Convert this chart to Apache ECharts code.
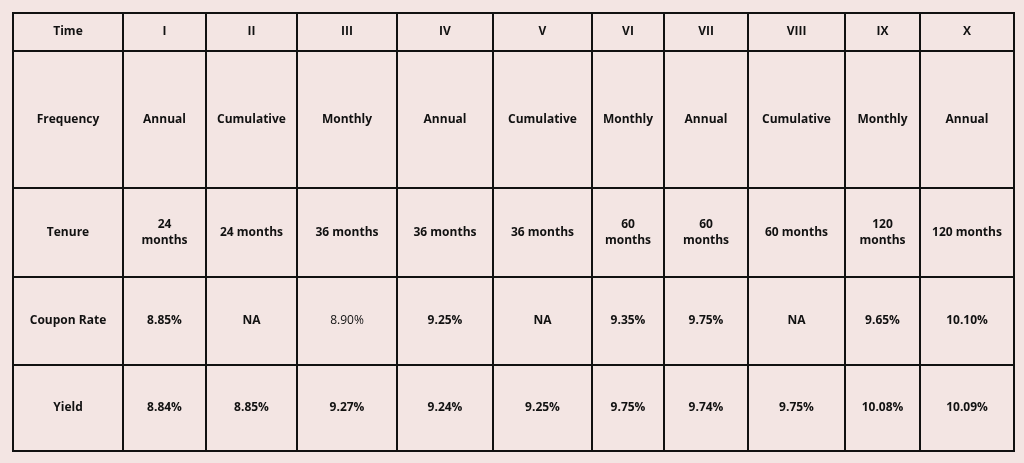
<!DOCTYPE html>
<html>
<head>
<meta charset="utf-8">
<script src="https://cdn.jsdelivr.net/npm/echarts@6/dist/echarts.min.js"></script>
<style>
  html, body { margin: 0; padding: 0; background: #f3e5e3; }
  #chart { width: 1024px; height: 463px; }
</style>
</head>
<body>
<div id="chart"></div>
<script>
// table content
var rowLabels = ['Time', 'Frequency', 'Tenure', 'Coupon Rate', 'Yield'];
var periods = ['I', 'II', 'III', 'IV', 'V', 'VI', 'VII', 'VIII', 'IX', 'X'];
var frequency = ['Annual', 'Cumulative', 'Monthly', 'Annual', 'Cumulative', 'Monthly', 'Annual', 'Cumulative', 'Monthly', 'Annual'];
var tenure = ['24\nmonths', '24 months', '36 months', '36 months', '36 months', '60\nmonths', '60\nmonths', '60 months', '120\nmonths', '120 months'];
var couponRate = ['8.85%', 'NA', '8.90%', '9.25%', 'NA', '9.35%', '9.75%', 'NA', '9.65%', '10.10%'];
var yieldVals = ['8.84%', '8.85%', '9.27%', '9.24%', '9.25%', '9.75%', '9.74%', '9.75%', '10.08%', '10.09%'];

// layout: column widths and row heights (px)
var colWidths = [110, 83, 91, 100, 96, 99, 72, 84, 97, 75, 94];
var rowHeights = [38, 137, 89, 88, 86];

var colEdges = [0];
colWidths.forEach(function (w) { colEdges.push(colEdges[colEdges.length - 1] + w); });
var rowEdges = [0];
rowHeights.forEach(function (h) { rowEdges.push(rowEdges[rowEdges.length - 1] + h); });

var rows = [periods, frequency, tenure, couponRate, yieldVals];
var cells = [];
rows.forEach(function (vals, r) {
  cells.push([0, r, rowLabels[r], 1]);
  vals.forEach(function (v, c) {
    var bold = (r === 3 && c === 2) ? 0 : 1;
    cells.push([c + 1, r, v, bold]);
  });
});

var chart = echarts.init(document.getElementById('chart'));
chart.setOption({
  backgroundColor: '#f3e5e3',
  animation: false,
  grid: { left: 13, right: 10, top: 13, bottom: 12 },
  xAxis: { type: 'value', min: 0, max: colEdges[colEdges.length - 1], show: false },
  yAxis: { type: 'value', min: 0, max: rowEdges[rowEdges.length - 1], inverse: true, show: false },
  series: [{
    type: 'custom',
    data: cells,
    renderItem: function (params, api) {
      var c = api.value(0), r = api.value(1);
      var p0 = api.coord([colEdges[c], rowEdges[r]]);
      var p1 = api.coord([colEdges[c + 1], rowEdges[r + 1]]);
      var item = cells[params.dataIndex];
      return {
        type: 'group',
        children: [{
          type: 'rect',
          shape: { x: p0[0], y: p0[1], width: p1[0] - p0[0], height: p1[1] - p0[1] },
          style: { fill: '#f3e5e3', stroke: '#111', lineWidth: 2 }
        }, {
          type: 'text',
          x: (p0[0] + p1[0]) / 2,
          y: (p0[1] + p1[1]) / 2,
          style: {
            text: item[2],
            align: 'center',
            verticalAlign: 'middle',
            fontFamily: 'Open Sans',
            fontSize: 12,
            fontWeight: item[3] ? 'bold' : 'normal',
            lineHeight: 16,
            fill: '#111'
          }
        }]
      };
    }
  }]
});
</script>
</body>
</html>
